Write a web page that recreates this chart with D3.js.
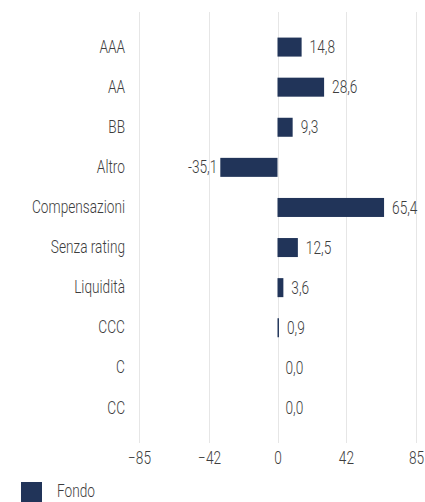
<html>
<head>
    <meta charset="utf-8">
    <script src="https://d3js.org/d3.v7.min.js"></script>
    <style>
        body { margin: 0; background: #fff; }
        text { font-family: Roboto, "DejaVu Sans", sans-serif; }
    </style>
</head>
<body>
    <div id="chart">
        <svg width="425" height="502"></svg>
    </div>
    <script>
        // dati
        var categories = ["AAA", "AA", "BB", "Altro", "Compensazioni", "Senza rating", "Liquidità", "CCC", "C", "CC"]
        var fondo = [14.8, 28.6, 9.3, -35.1, 65.4, 12.5, 3.6, 0.9, 0.0, 0.0]
        var tickValues = [-85, -42, 0, 42, 85]
        var seriesName = "Fondo"

        var data = categories.map(function(c, i) {
            return { cat: c, val: fondo[i] }
        })

        var svg = d3.select("#chart svg")
        var barColor = "#213459"
        var textColor = "#3d3d3d"
        var fontSize = "17.5px"

        var xScale = d3.scaleLinear()
            .domain([-85, 85])
            .range([139, 416])

        var yScale = d3.scaleBand()
            .domain(categories)
            .range([12, 443])
            .paddingInner(0.526)
            .paddingOuter(0.638)

        // griglia verticale
        svg.append("g")
            .selectAll("line")
            .data(tickValues)
            .enter()
            .append("line")
            .attr("x1", function(d) { return Math.round(xScale(d)) + 0.5 })
            .attr("x2", function(d) { return Math.round(xScale(d)) + 0.5 })
            .attr("y1", 12)
            .attr("y2", 443)
            .style("stroke", "#e6e6e6")
            .style("stroke-width", 1)

        // asse x
        var xAxis = d3.axisBottom(xScale)
            .tickValues(tickValues)
            .tickSize(0)
            .tickPadding(0)
            .tickFormat(function(d) { return d < 0 ? "\u2212" + Math.abs(d) : d })
        var gx = svg.append("g")
            .attr("transform", "translate(0,452)")
            .call(xAxis)
        gx.select(".domain").remove()

        // asse y
        var yAxis = d3.axisLeft(yScale).tickSize(0).tickPadding(0)
        var gy = svg.append("g")
            .attr("transform", "translate(125,0)")
            .call(yAxis)
        gy.select(".domain").remove()

        // barre
        svg.append("g")
            .selectAll("rect")
            .data(data)
            .enter()
            .append("rect")
            .attr("x", function(d) { return xScale(Math.min(0, d.val)) })
            .attr("y", function(d) { return yScale(d.cat) })
            .attr("width", function(d) { return Math.abs(xScale(d.val) - xScale(0)) })
            .attr("height", yScale.bandwidth())
            .style("fill", barColor)
            .style("stroke", function(d) { return d.val === 0 ? "#c8c8c8" : "none" })
            .style("stroke-width", 1)

        // etichette valori
        svg.append("g")
            .attr("class", "vals")
            .selectAll("text")
            .data(data)
            .enter()
            .append("text")
            .attr("x", function(d) { return d.val < 0 ? xScale(d.val) - 3 : xScale(d.val) + 8 })
            .attr("y", function(d) { return yScale(d.cat) + yScale.bandwidth() / 2 })
            .attr("dy", "0.35em")
            .attr("text-anchor", function(d) { return d.val < 0 ? "end" : "start" })
            .text(function(d) { return d.val.toFixed(1).replace(".", ",") })

        // legenda
        var legend = svg.append("g").attr("transform", "translate(21,482)")
        legend.append("rect")
            .attr("width", 21)
            .attr("height", 20)
            .style("fill", barColor)
        legend.append("text")
            .attr("x", 36)
            .attr("y", 9)
            .attr("dy", "0.35em")
            .text(seriesName)

        // stile testi + compressione orizzontale (font stretto come nel riferimento)
        var allText = svg.selectAll("text")
            .style("font-family", "Roboto, 'DejaVu Sans', sans-serif")
            .style("font-weight", 300)
            .style("font-size", fontSize)
            .style("fill", textColor)
        var ref = gy.selectAll("text").filter(function(d) { return d === "Compensazioni" }).node()
        var factor = 93 / ref.getComputedTextLength()
        if (factor > 1) factor = 1
        allText.each(function() {
            var w = this.getComputedTextLength()
            d3.select(this)
                .attr("textLength", w * factor)
                .attr("lengthAdjust", "spacingAndGlyphs")
        })
    </script>
</body>
</html>
